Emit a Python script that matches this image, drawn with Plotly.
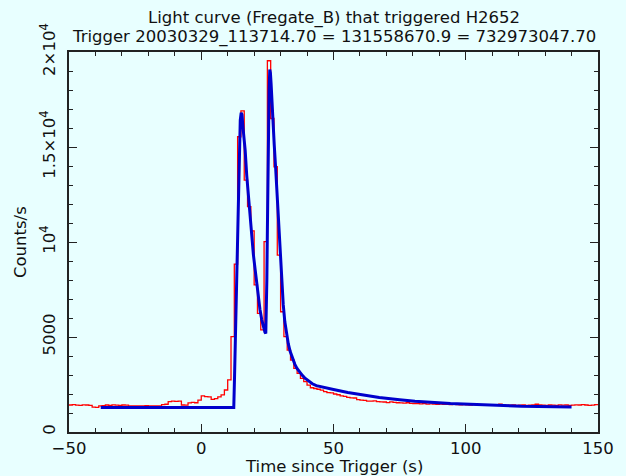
import plotly.graph_objects as go

# ---- data ----
bin_start = -50.0
bin_width = 1.25
counts = [
    1420, 1440, 1410, 1400, 1430, 1420, 1400, 1310, 1300, 1380,
    1390, 1420, 1400, 1430, 1410, 1400, 1420, 1410, 1380, 1370,
    1380, 1370, 1370, 1390, 1370, 1380, 1370, 1380, 1440, 1460,
    1600, 1620, 1610, 1630, 1420, 1410, 1530, 1560, 1540, 1680,
    1900, 1860, 1850, 1720, 1760, 1850, 1950, 2210, 2740, 5020,
    8840, 15540, 16900, 13260, 11860, 10590, 7740, 6240, 5370, 10020,
    19540, 16500, 13960, 9310, 6330, 5020, 4310, 3790, 3350, 3090,
    2820, 2650, 2470, 2330, 2290, 2250, 2200, 2120, 2070, 2060,
    2000, 1960, 1900, 1880, 1820, 1800, 1790, 1700, 1680, 1660,
    1630, 1620, 1640, 1600, 1590, 1580, 1550, 1590, 1560, 1540,
    1530, 1520, 1540, 1510, 1500, 1490, 1480, 1490, 1470, 1480,
    1470, 1460, 1470, 1450, 1460, 1440, 1450, 1440, 1430, 1440,
    1430, 1420, 1440, 1430, 1420, 1410, 1430, 1420, 1410, 1420,
    1460, 1420, 1400, 1410, 1420, 1400, 1410, 1420, 1400, 1410,
    1430, 1460, 1420, 1410, 1400, 1420, 1410, 1400, 1430, 1410,
    1420, 1400, 1410, 1430, 1420, 1440, 1420, 1400, 1410, 1440,
]

model_t = [-38, 12.3, 12.6, 12.9, 13.2, 13.5, 13.8, 14.1, 14.4, 14.75,
           15.1, 15.4, 15.8, 16.2, 16.6, 17.2, 17.9, 18.5, 19.1, 19.7,
           20.4, 21.0, 21.6, 22.2, 22.9, 23.4, 23.8, 24.1, 24.4, 24.6,
           24.8, 25.0, 25.2, 25.4, 25.65, 25.9, 26.15, 26.4, 26.7, 27.1,
           27.6, 28.1, 28.6, 29.1, 29.75, 30.3, 31.0, 31.6, 32.2, 32.9,
           33.6, 34.4, 35.4, 36.2, 37.2, 38.2, 39.1, 40.5, 42, 43.5,
           45.4, 47.5, 50, 55.4, 60.6, 67.3, 75, 80.8, 94.2, 107.7,
           121, 140]
model_rate = [1290, 1290, 3000, 4840, 6800, 8700, 11200, 13600, 15300, 16420,
              16800, 16700, 16000, 15400, 14840, 13500, 12210, 11200, 10280, 9350,
              8520, 7800, 7120, 6450, 5890, 5560, 5350, 5250, 5190, 6100,
              8000, 10600, 13500, 16240, 18000, 19080, 18900, 18350, 17400, 16240,
              15100, 13960, 12600, 11100, 9400, 8000, 6700, 5800, 5150, 4650,
              4250, 3900, 3560, 3350, 3150, 2980, 2850, 2680, 2540, 2440,
              2370, 2300, 2240, 2080, 1950, 1820, 1700, 1620, 1500, 1420,
              1360, 1320]

x_ticks = [-50, 0, 50, 100, 150]
x_ticktext = ["−50", "0", "50", "100", "150"]
y_ticks = [0, 5000, 10000, 15000, 20000]
y_ticktext = ["0", "5000", "10<sup>4</sup>", "1.5×10<sup>4</sup>", "2×10<sup>4</sup>"]

title1 = "Light curve (Fregate_B) that triggered H2652"
title2 = "Trigger 20030329_113714.70 = 131558670.9 = 732973047.70"

# ---- figure ----
edges = [bin_start + bin_width * i for i in range(len(counts) + 1)]
hist_y = counts + [counts[-1]]

bg = "#E8FFFF"
fg = "#111111"
font = dict(family="DejaVu Sans", size=16.5, color=fg)

fig = go.Figure()
fig.add_trace(go.Scatter(x=edges, y=hist_y, mode="lines", line_shape="hv",
                         line=dict(color="#FF0000", width=1.3), showlegend=False))
fig.add_trace(go.Scatter(x=model_t, y=model_rate, mode="lines",
                         line=dict(color="#0000CC", width=3), showlegend=False))

axis_common = dict(showline=True, linecolor="#222222", linewidth=1.5, mirror="ticks",
                   ticks="inside", ticklen=8, tickwidth=1.2, tickcolor="#222222",
                   showgrid=False, zeroline=False, tickfont=font)

fig.update_xaxes(range=[-50, 150], tickvals=x_ticks, ticktext=x_ticktext,
                 minor=dict(ticks="inside", ticklen=4, dtick=10, tickcolor="#222222", tickwidth=1.2, showgrid=False),
                 ticklabelstandoff=0, **axis_common)
fig.update_yaxes(range=[0, 20000], tickvals=y_ticks, ticktext=y_ticktext, tickangle=-90,
                 minor=dict(ticks="inside", ticklen=4, dtick=1000, tickcolor="#222222", tickwidth=1.2, showgrid=False),
                 ticklabelstandoff=6, **axis_common)

fig.add_annotation(text=title1, xref="paper", yref="paper", x=0.5, y=1, yshift=34,
                   showarrow=False, font=font, xanchor="center", yanchor="middle")
fig.add_annotation(text=title2, xref="paper", yref="paper", x=0.5, y=1, yshift=15,
                   showarrow=False, font=font, xanchor="center", yanchor="middle")
fig.add_annotation(text="Time since Trigger (s)", xref="paper", yref="paper", x=0.5, y=0, yshift=-34,
                   showarrow=False, font=font, xanchor="center", yanchor="middle")
fig.add_annotation(text="Counts/s", xref="paper", yref="paper", x=0, y=0.5, xshift=-49,
                   showarrow=False, font=font, textangle=-90, xanchor="center", yanchor="middle")

fig.update_layout(width=626, height=476, margin=dict(l=69, r=24, t=52, b=44),
                  paper_bgcolor=bg, plot_bgcolor=bg, font=font, showlegend=False)

fig.write_html("out.html")
